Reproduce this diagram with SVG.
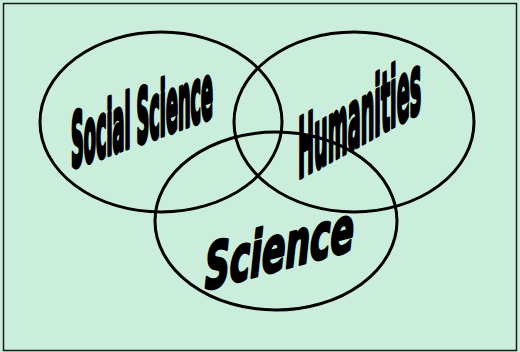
<svg xmlns="http://www.w3.org/2000/svg" width="520" height="352" viewBox="0 0 520 352">
  <style>
    .ring { fill: none; stroke: #000; stroke-width: 3; }
    .label { font-family: "DejaVu Sans", Verdana, sans-serif; font-weight: bold; fill: #000; stroke: #000; stroke-linejoin: round; vector-effect: non-scaling-stroke; }
  </style>
  <rect x="0" y="0" width="520" height="352" fill="#CBEEDC"/>
  <rect x="3.5" y="3.5" width="513" height="347" fill="#CBEEDC" stroke="#1a1a1a" stroke-width="1.5"/>
  <g id="rings">
    <ellipse id="ring-social" class="ring" cx="161" cy="122" rx="121" ry="90"/>
    <ellipse id="ring-humanities" class="ring" cx="354" cy="122" rx="120" ry="90"/>
    <ellipse id="ring-science" class="ring" cx="276" cy="221" rx="121" ry="89"/>
  </g>
  <g id="social-science">
    <text class="label" font-size="60" stroke-width="3.8" transform="matrix(0.295,-0.1065,0,1.24,71,168)" x="0" y="0">Social Science</text>
  </g>
  <g id="humanities">
    <text class="label" font-size="60" stroke-width="3.3" transform="matrix(0.32,-0.176,0,1.38,298,179)" x="0" y="0">Humanities</text>
  </g>
  <g id="science">
    <text class="label" font-size="60" font-style="italic" stroke-width="2.5" transform="matrix(0.575,-0.156,0,1.04,205,290)" x="0" y="0">Science</text>
  </g>
</svg>
